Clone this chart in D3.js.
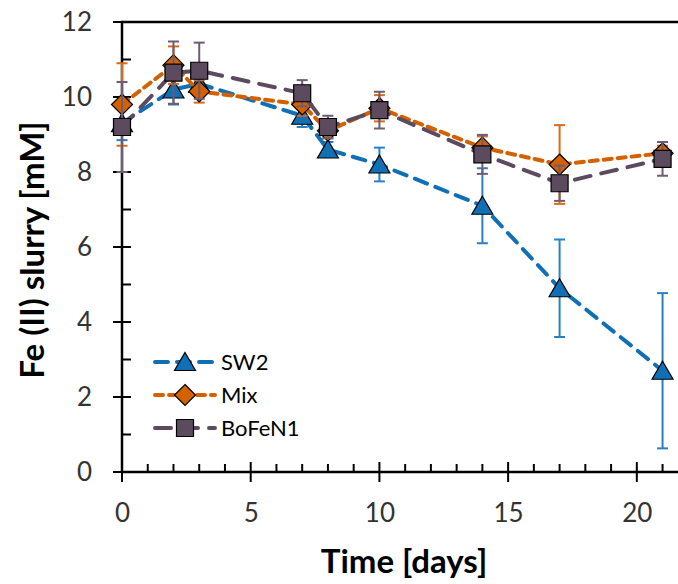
<!DOCTYPE html>
<html><head><meta charset="utf-8">
<script src="https://cdn.jsdelivr.net/npm/d3@7"></script>
<style>body{margin:0;background:#fff}svg{display:block}</style>
</head><body>
<svg id="c" width="678" height="584"></svg>
<script>
const days = [0, 2, 3, 7, 8, 10, 14, 17, 21];
const sw2 = [9.3, 10.2, 10.35, 9.5, 8.6, 8.2, 7.1, 4.9, 2.7];
const sw2Err = [0.45, 0.4, 0.3, 0.3, 0.2, 0.45, 1.0, 1.3, 2.07];
const mix = [9.8, 10.85, 10.15, 9.8, 9.1, 9.7, 8.65, 8.2, 8.5];
const mixErr = [1.1, 0.5, 0.3, 0.3, 0.2, 0.35, 0.3, 1.05, 0.2];
const bofen = [9.2, 10.65, 10.7, 10.1, 9.2, 9.65, 8.47, 7.7, 8.35];
const bofenErr = [1.2, 0.83, 0.75, 0.35, 0.3, 0.49, 0.52, 0.47, 0.45];
const xTicks = [0, 5, 10, 15, 20];
const yTicks = [0, 2, 4, 6, 8, 10, 12];
const seriesNames = ["SW2", "Mix", "BoFeN1"];

const series = [
  {name: seriesNames[0], v: sw2, e: sw2Err, color: "#1170B5", ecolor: "#2A80C2", dash: "13,9", shape: "tri"},
  {name: seriesNames[1], v: mix, e: mixErr, color: "#D36100", ecolor: "#DA6A1C", dash: "8,6", shape: "dia"},
  {name: seriesNames[2], v: bofen, e: bofenErr, color: "#5C4A5F", ecolor: "#6E5C70", dash: "16,11", shape: "sq"}
];

const svg = d3.select("#c");
const x = d3.scaleLinear().domain([0, 22]).range([122, 688.3]);
const y = d3.scaleLinear().domain([0, 12]).range([472, 22]);
const font = "Lato, 'Open Sans', sans-serif";

function shapePath(s) {
  if (s === "tri") return "M0,-9.5L10.5,8.5L-10.5,8.5Z";
  if (s === "dia") return "M0,-10.5L10.5,0L0,10.5L-10.5,0Z";
  return "M-8.5,-8.5H8.5V8.5H-8.5Z";
}

// axes frame
const g = svg.append("g");
g.append("line").attr("x1", x(0)).attr("x2", 678).attr("y1", y(12)).attr("y2", y(12))
  .attr("stroke", "#000").attr("stroke-width", 2.5);
g.append("line").attr("x1", x(0)).attr("x2", x(0)).attr("y1", y(12) - 1.2).attr("y2", y(0))
  .attr("stroke", "#000").attr("stroke-width", 2.5);
g.append("line").attr("x1", x(0) - 1.2).attr("x2", 678).attr("y1", y(0)).attr("y2", y(0))
  .attr("stroke", "#000").attr("stroke-width", 2.5);

// y ticks
d3.range(0, 13, 1).forEach(v => {
  const major = v % 2 === 0;
  g.append("line").attr("x1", x(0) - (major ? 9 : 0)).attr("x2", x(0) + 9)
    .attr("y1", y(v)).attr("y2", y(v)).attr("stroke", "#000").attr("stroke-width", 2);
});
// x ticks
d3.range(0, 22, 1).forEach(v => {
  const major = v % 5 === 0;
  g.append("line").attr("x1", x(v)).attr("x2", x(v))
    .attr("y1", y(0) - (major ? 10 : 8)).attr("y2", y(0) + (major ? 10 : 0))
    .attr("stroke", "#000").attr("stroke-width", 2);
});

// tick labels via axes
const yAxis = d3.axisLeft(y).tickValues(yTicks).tickSize(0).tickPadding(30);
const ya = svg.append("g").attr("transform", `translate(${x(0)},0)`).call(yAxis);
ya.select(".domain").remove();
ya.selectAll("text").attr("font-family", font).attr("font-size", 26).attr("fill", "#333");

const xAxis = d3.axisBottom(x).tickValues(xTicks).tickSize(0).tickPadding(32);
const xa = svg.append("g").attr("transform", `translate(0,${y(0)})`).call(xAxis);
xa.select(".domain").remove();
xa.selectAll("text").attr("font-family", font).attr("font-size", 26).attr("fill", "#333");

// titles
svg.append("text").attr("x", 404).attr("y", 573).attr("text-anchor", "middle")
  .attr("font-family", font).attr("font-weight", "bold").attr("font-size", 33).attr("fill", "#000")
  .text("Time [days]");
svg.append("text").attr("transform", "translate(44,250) rotate(-90)").attr("text-anchor", "middle")
  .attr("font-family", font).attr("font-weight", "bold").attr("font-size", 33).attr("fill", "#000")
  .text("Fe (II) slurry [mM]");

// series
series.forEach(s => {
  const sg = svg.append("g");
  const pts = days.map((d, i) => ({d, v: s.v[i], e: s.e[i]}));
  // error bars
  pts.forEach(p => {
    sg.append("line").attr("x1", x(p.d)).attr("x2", x(p.d)).attr("y1", y(p.v + p.e)).attr("y2", y(p.v - p.e))
      .attr("stroke", s.ecolor).attr("stroke-width", 2);
    [p.v + p.e, p.v - p.e].forEach(t => {
      sg.append("line").attr("x1", x(p.d) - 5.5).attr("x2", x(p.d) + 5.5).attr("y1", y(t)).attr("y2", y(t))
        .attr("stroke", s.ecolor).attr("stroke-width", 2);
    });
  });
  const line = d3.line().x(p => x(p.d)).y(p => y(p.v));
  sg.append("path").datum(pts).attr("d", line).attr("fill", "none")
    .attr("stroke", s.color).attr("stroke-width", 4).attr("stroke-dasharray", s.dash)
    .attr("stroke-linecap", "round");
  sg.selectAll(".m").data(pts).enter().append("path")
    .attr("transform", p => `translate(${x(p.d)},${y(p.v)})`)
    .attr("d", shapePath(s.shape)).attr("fill", s.color).attr("stroke", "#000").attr("stroke-width", 1.2);
});

// legend
const leg = svg.append("g");
series.forEach((s, i) => {
  const ly = 362 + i * 33;
  leg.append("line").attr("x1", 155).attr("x2", 215).attr("y1", ly).attr("y2", ly)
    .attr("stroke", s.color).attr("stroke-width", 4).attr("stroke-dasharray", s.dash).attr("stroke-linecap", "round");
  leg.append("path").attr("transform", `translate(185,${ly})`).attr("d", shapePath(s.shape))
    .attr("fill", s.color).attr("stroke", "#000").attr("stroke-width", 1.2);
  leg.append("text").attr("x", 221).attr("y", ly).attr("dy", "0.36em")
    .attr("font-family", font).attr("font-size", 22).attr("fill", "#000").text(s.name);
});
</script>
</body></html>
